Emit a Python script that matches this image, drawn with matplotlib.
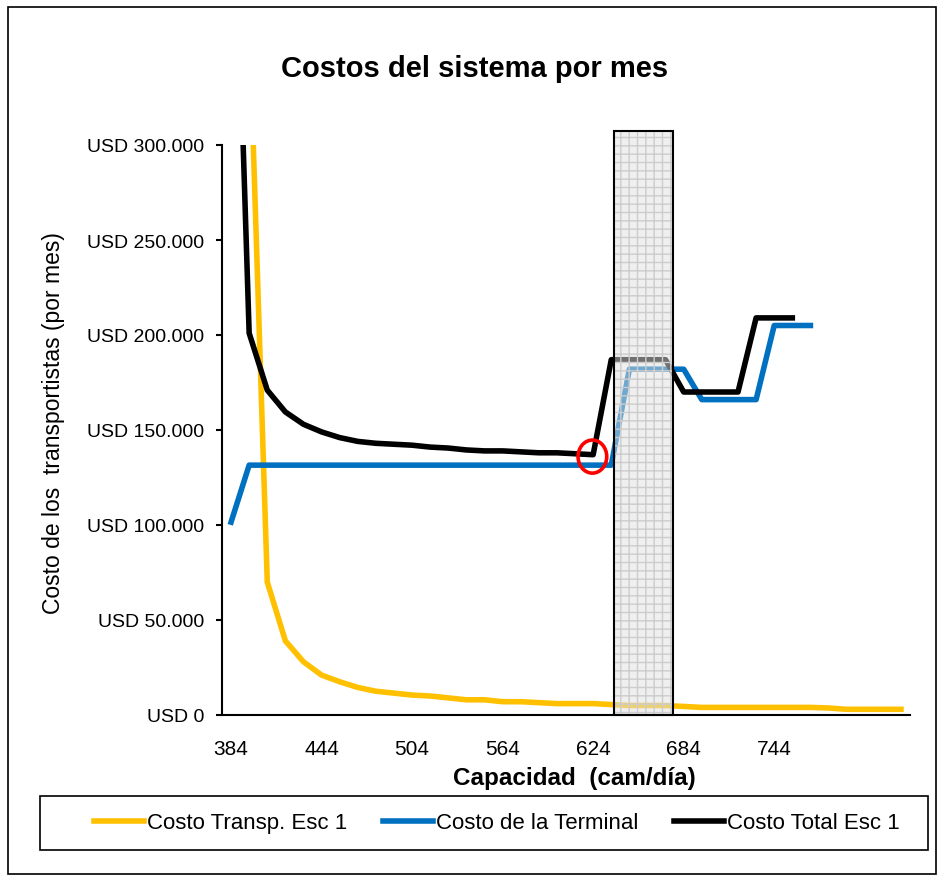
import matplotlib
matplotlib.use("Agg")
import matplotlib.pyplot as plt
from matplotlib.patches import Rectangle, Ellipse
from matplotlib.ticker import FuncFormatter
import matplotlib.transforms as mtransforms

plt.rcParams['font.family'] = ['Liberation Sans', 'DejaVu Sans']

# capacidad (cam/dia), paso de 12
capacidad = [384 + 12 * i for i in range(38)]

costo_transp = [368000, 70000, 39000, 28000, 21000, 17500, 14500, 12500, 11500,
                10500, 10000, 9000, 8000, 8000, 7000, 7000, 6500, 6000, 6000,
                6000, 5500, 5000, 5000, 5000, 4500, 4000, 4000, 4000, 4000,
                4000, 4000, 4000, 3700, 3000, 3000, 3000, 3000]
costo_terminal = [101500] + [131500] * 21 + [182000] * 4 + [166000] * 4 + [205000] * 3
costo_total = [500000, 201000, 171000, 159500, 153000, 149000, 146000, 144000,
               143000, 142500, 142000, 141000, 140500, 139500, 139000, 139000,
               138500, 138000, 138000, 137500, 137000, 187000, 187000, 187000,
               187000, 170000, 170000, 170000, 170000, 209000, 209000, 209000]

x_transp = capacidad[1:1 + len(costo_transp)]
x_terminal = capacidad[:len(costo_terminal)]
x_total = capacidad[:len(costo_total)]

xticks = [384, 444, 504, 564, 624, 684, 744]
yticks = [0, 50000, 100000, 150000, 200000, 250000, 300000]

fig = plt.figure(figsize=(9.38, 8.79), dpi=100)
ax = fig.add_axes([222 / 938, 1 - 716 / 879, 688 / 938, 570 / 879])

ax.plot(x_transp, costo_transp, color='#FFC000', lw=4, label='Costo Transp. Esc 1',
        solid_joinstyle='round')
ax.plot(x_terminal, costo_terminal, color='#0070C0', lw=4, label='Costo de la Terminal',
        solid_joinstyle='round')
ax.plot(x_total, costo_total, color='black', lw=4, label='Costo Total Esc 1',
        solid_joinstyle='round')

# zona sombreada
trans = mtransforms.blended_transform_factory(ax.transData, ax.transAxes)
ax.add_patch(Rectangle((637.5, 0), 39.5, 1.025, transform=trans,
                       facecolor=(0.88, 0.88, 0.88, 0.5), edgecolor='#cccccc',
                       hatch='++', lw=0, clip_on=False, zorder=5))
ax.add_patch(Rectangle((637.5, 0), 39.5, 1.025, transform=trans,
                       facecolor='none', edgecolor='black', lw=1.5,
                       clip_on=False, zorder=6))

# circulo rojo
ax.add_patch(Ellipse((623.5, 136000), 19, 17400, facecolor='none',
                     edgecolor='red', lw=2.6, zorder=7))

ax.set_xlim(378, 834)
ax.set_ylim(0, 300000)
ax.set_xticks(xticks)
ax.set_yticks(yticks)
ax.yaxis.set_major_formatter(FuncFormatter(
    lambda v, p: 'USD ' + f'{int(v):,}'.replace(',', '.')))
ax.tick_params(axis='x', length=0, labelsize=15, pad=17)
ax.tick_params(axis='y', length=4, width=1.5, labelsize=14, pad=9)

for s in ['top', 'right']:
    ax.spines[s].set_visible(False)
for s in ['left', 'bottom']:
    ax.spines[s].set_linewidth(1.5)

ax.set_ylabel('Costo de los  transportistas (por mes)', fontsize=16.5)
ax.yaxis.set_label_coords(-0.2285, 0.514)
ax.set_xlabel('Capacidad  (cam/día)', fontsize=17.5, fontweight='bold')
ax.xaxis.set_label_coords(0.512, -0.0895)

fig.text(0.506, 1 - 69 / 879, 'Costos del sistema por mes', ha='center', va='center',
         fontsize=21, fontweight='bold')

fig.legend(loc='center', bbox_to_anchor=(497 / 938, 1 - 824 / 879), ncol=3,
           fontsize=16, frameon=False, handlelength=2.25, handletextpad=0.15,
           columnspacing=1.6, borderaxespad=0)
# marco de la leyenda
fig.patches.append(Rectangle((40 / 938, 1 - 851 / 879), 888 / 938, 54 / 879,
                             transform=fig.transFigure, facecolor='none',
                             edgecolor='black', lw=1.2))

# borde del grafico
fig.patches.append(Rectangle((8 / 938, 0.004), 1 - 8 / 938 - 0.002, 1 - 8 / 879 - 0.004,
                             transform=fig.transFigure, facecolor='none',
                             edgecolor='black', lw=1.2))

fig.savefig('out.png', dpi=100)
